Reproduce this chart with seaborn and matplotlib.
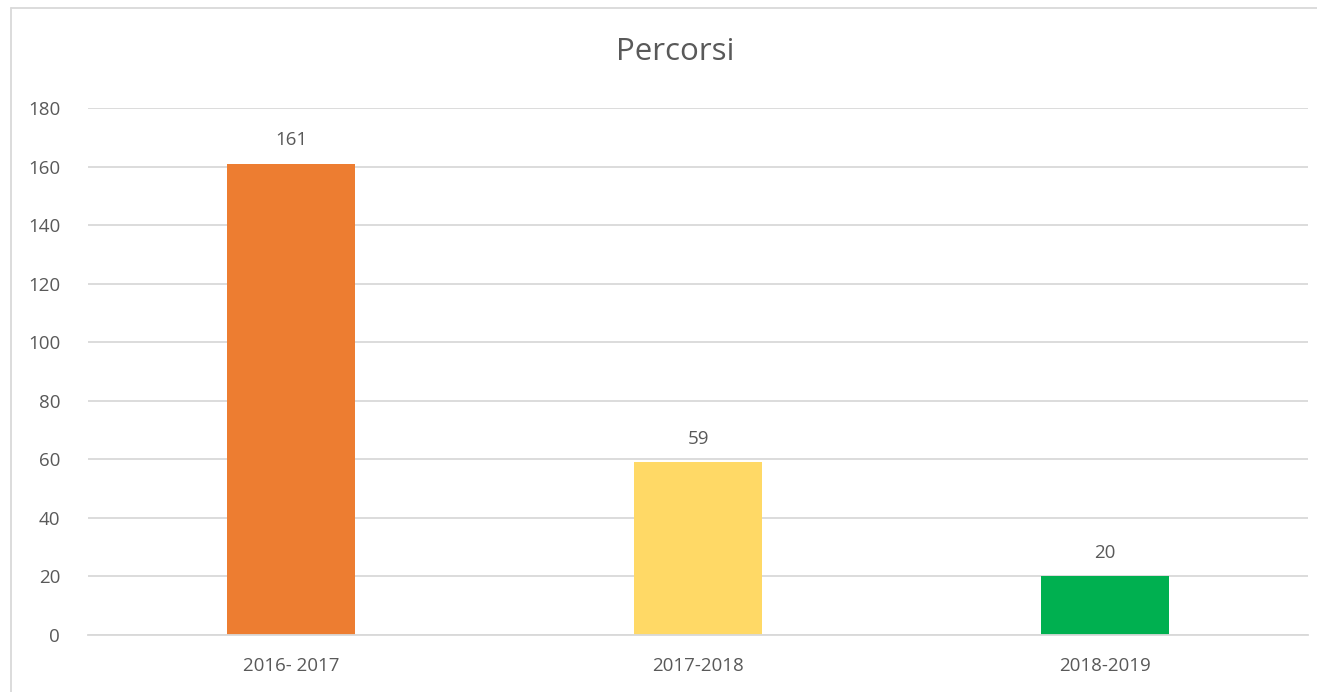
import matplotlib
matplotlib.use("Agg")
import matplotlib.pyplot as plt
from matplotlib.lines import Line2D
import seaborn as sns
import pandas as pd

# data
periods = ["2016- 2017", "2017-2018", "2018-2019"]
percorsi = [161, 59, 20]
bar_colors = ["#ED7D31", "#FFD966", "#00B050"]

text_color = "#595959"
grid_color = "#D9D9D9"

sns.set_theme(style="white")
plt.rcParams["font.family"] = ["Open Sans", "DejaVu Sans"]

df = pd.DataFrame({"periodo": periods, "percorsi": percorsi})

fig = plt.figure(figsize=(13.17, 6.92), dpi=100)
ax = fig.add_axes([0.0668, 0.0824, 0.9264, 0.7615])

sns.barplot(data=df, x="periodo", y="percorsi", hue="periodo",
            palette=bar_colors, width=0.315, legend=False, ax=ax,
            saturation=1, linewidth=0)

ax.set_xlim(-0.5, 2.5)
ax.set_ylim(0, 180)
ax.set_yticks(range(0, 181, 20))
ax.yaxis.grid(True, color=grid_color, linewidth=1.3)
ax.set_axisbelow(True)
for s in ax.spines.values():
    s.set_visible(False)
ax.spines["bottom"].set_visible(True)
ax.spines["bottom"].set_color(grid_color)
ax.spines["bottom"].set_linewidth(1.3)

ax.set_xlabel("")
ax.set_ylabel("")
ax.tick_params(axis="both", length=0, labelsize=13.5, labelcolor=text_color)
ax.tick_params(axis="y", pad=20)
ax.tick_params(axis="x", pad=16)

for i, v in enumerate(percorsi):
    ax.text(i, v + 5, str(v), ha="center", va="bottom",
            fontsize=13.5, color=text_color)

fig.text(0.5125, 0.925, "Percorsi", ha="center", va="center",
         fontsize=22.5, color=text_color)

# outer chart frame: only the left and top edges are inside the picture
x0, y0 = 11 / 1317, 1 - 8 / 692
fig.lines.append(Line2D([x0, x0], [0, y0], transform=fig.transFigure,
                        color=grid_color, linewidth=1.3))
fig.lines.append(Line2D([x0, 1], [y0, y0], transform=fig.transFigure,
                        color=grid_color, linewidth=1.3))

fig.savefig("out.png", dpi=100)
